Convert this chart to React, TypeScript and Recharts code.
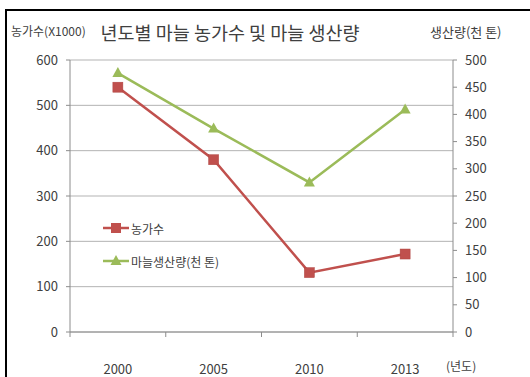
import React from "react";
import { ComposedChart, Line, XAxis, YAxis, CartesianGrid } from "recharts";

const years = ["2000", "2005", "2010", "2013"];
const farmHouseholds = [540, 380, 131, 172];
const garlicProduction = [476, 374, 275, 409];
const leftTicks = [0, 100, 200, 300, 400, 500, 600];
const rightTicks = [0, 50, 100, 150, 200, 250, 300, 350, 400, 450, 500];

const seriesNames = { farms: "농가수", prod: "마늘생산량(천 톤)" };
const titleText = "년도별 마늘 농가수 및 마늘 생산량";
const leftTitle = "농가수(X1000)";
const rightTitle = "생산량(천 톤)";
const xTitle = "(년도)";

const data = years.map((y, i) => ({ year: y, farms: farmHouseholds[i], prod: garlicProduction[i] }));

const W = 530;
const H = 377;
const PLOT_LEFT = 70;
const PLOT_RIGHT = 453;
const BAND = (PLOT_RIGHT - PLOT_LEFT) / years.length;
const RED = "#C0504D";
const GREEN = "#9BBB59";
const FONT = "'Noto Sans CJK KR', 'Noto Sans', sans-serif";
const TXT = "#404040";

const Square = (props: any) => {
  const { cx, cy } = props;
  if (cx == null || cy == null) return <g />;
  return <rect x={cx - 5} y={cy - 5} width={10} height={10} fill={RED} stroke="#b04440" strokeWidth={0.5} />;
};
const Tri = (props: any) => {
  const { cx, cy } = props;
  if (cx == null || cy == null) return <g />;
  return <path d={`M${cx},${cy - 6} L${cx + 5.5},${cy + 4} L${cx - 5.5},${cy + 4} Z`} fill={GREEN} />;
};

const XTick = (props: any) => {
  const { x, y, payload, index } = props;
  return (
    <g>
      <line x1={x - BAND / 2} x2={x - BAND / 2} y1={y} y2={y + 5} stroke="#8c8c8c" />
      {index === years.length - 1 && (
        <line x1={x + BAND / 2} x2={x + BAND / 2} y1={y} y2={y + 5} stroke="#8c8c8c" />
      )}
      <text x={x} y={y + 42} textAnchor="middle" fontSize={13} fill={TXT} fontFamily={FONT}>
        {payload.value}
      </text>
    </g>
  );
};

const LegendBox = () => (
  <div style={{ position: "absolute", left: 103, top: 218, fontFamily: FONT, fontSize: 12, color: TXT }}>
    <div style={{ display: "flex", alignItems: "center", height: 20 }}>
      <svg width={28} height={12}>
        <line x1={0} x2={26} y1={6} y2={6} stroke={RED} strokeWidth={2.5} />
        <rect x={8} y={1} width={10} height={10} fill={RED} />
      </svg>
      <span>{seriesNames.farms}</span>
    </div>
    <div style={{ display: "flex", alignItems: "center", height: 20, marginTop: 13 }}>
      <svg width={28} height={12}>
        <line x1={0} x2={26} y1={6} y2={6} stroke={GREEN} strokeWidth={2.5} />
        <path d="M13,0 L18.5,10 L7.5,10 Z" fill={GREEN} />
      </svg>
      <span>{seriesNames.prod}</span>
    </div>
  </div>
);

export default function App() {
  return (
    <div style={{ position: "absolute", left: 0, top: 0, width: W, height: H, overflow: "hidden", background: "#fff" }}>
      <div style={{ position: "absolute", left: 5, top: 9, width: 600, height: 500, border: "2px solid #000" }} />
      <div style={{ position: "absolute", left: 11, top: 22, fontFamily: FONT, fontSize: 12, color: TXT, whiteSpace: "nowrap" }}>{leftTitle}</div>
      <div style={{ position: "absolute", left: 230, top: 19, transform: "translateX(-50%)", fontFamily: FONT, fontSize: 18.5, color: "#404040", whiteSpace: "nowrap" }}>{titleText}</div>
      <div style={{ position: "absolute", left: 430, top: 22, fontFamily: FONT, fontSize: 13, color: TXT, whiteSpace: "nowrap" }}>{rightTitle}</div>
      <div style={{ position: "absolute", left: 446, top: 357, fontFamily: FONT, fontSize: 12, color: TXT, whiteSpace: "nowrap" }}>{xTitle}</div>
      <div style={{ position: "absolute", left: 0, top: 0 }}>
        <ComposedChart width={W} height={H} data={data} margin={{ top: 60, right: 0, bottom: 15, left: 0 }}>
          <CartesianGrid yAxisId="left" vertical={false} stroke="#b3b3b3" />
          <XAxis
            dataKey="year"
            scale="band"
            height={30}
            tickLine={false}
            tickSize={0}
            tickMargin={0}
            axisLine={{ stroke: "#8c8c8c" }}
            tick={<XTick />}
            interval={0}
          />
          <YAxis
            yAxisId="left"
            width={70}
            domain={[0, 600]}
            ticks={leftTicks}
            interval={0}
            tickSize={4}
            tickMargin={8}
            axisLine={{ stroke: "#8c8c8c" }}
            tickLine={{ stroke: "#8c8c8c" }}
            tick={{ fontSize: 13, fill: TXT, fontFamily: FONT }}
          />
          <YAxis
            yAxisId="right"
            orientation="right"
            width={77}
            domain={[0, 500]}
            ticks={rightTicks}
            interval={0}
            tickSize={4}
            tickMargin={8}
            axisLine={{ stroke: "#8c8c8c" }}
            tickLine={{ stroke: "#8c8c8c" }}
            tick={{ fontSize: 13, fill: TXT, fontFamily: FONT }}
          />
          <Line yAxisId="left" dataKey="farms" name={seriesNames.farms} stroke={RED} strokeWidth={2.5} dot={<Square />} isAnimationActive={false} />
          <Line yAxisId="right" dataKey="prod" name={seriesNames.prod} stroke={GREEN} strokeWidth={2.5} dot={<Tri />} isAnimationActive={false} />
        </ComposedChart>
      </div>
      <LegendBox />
    </div>
  );
}
